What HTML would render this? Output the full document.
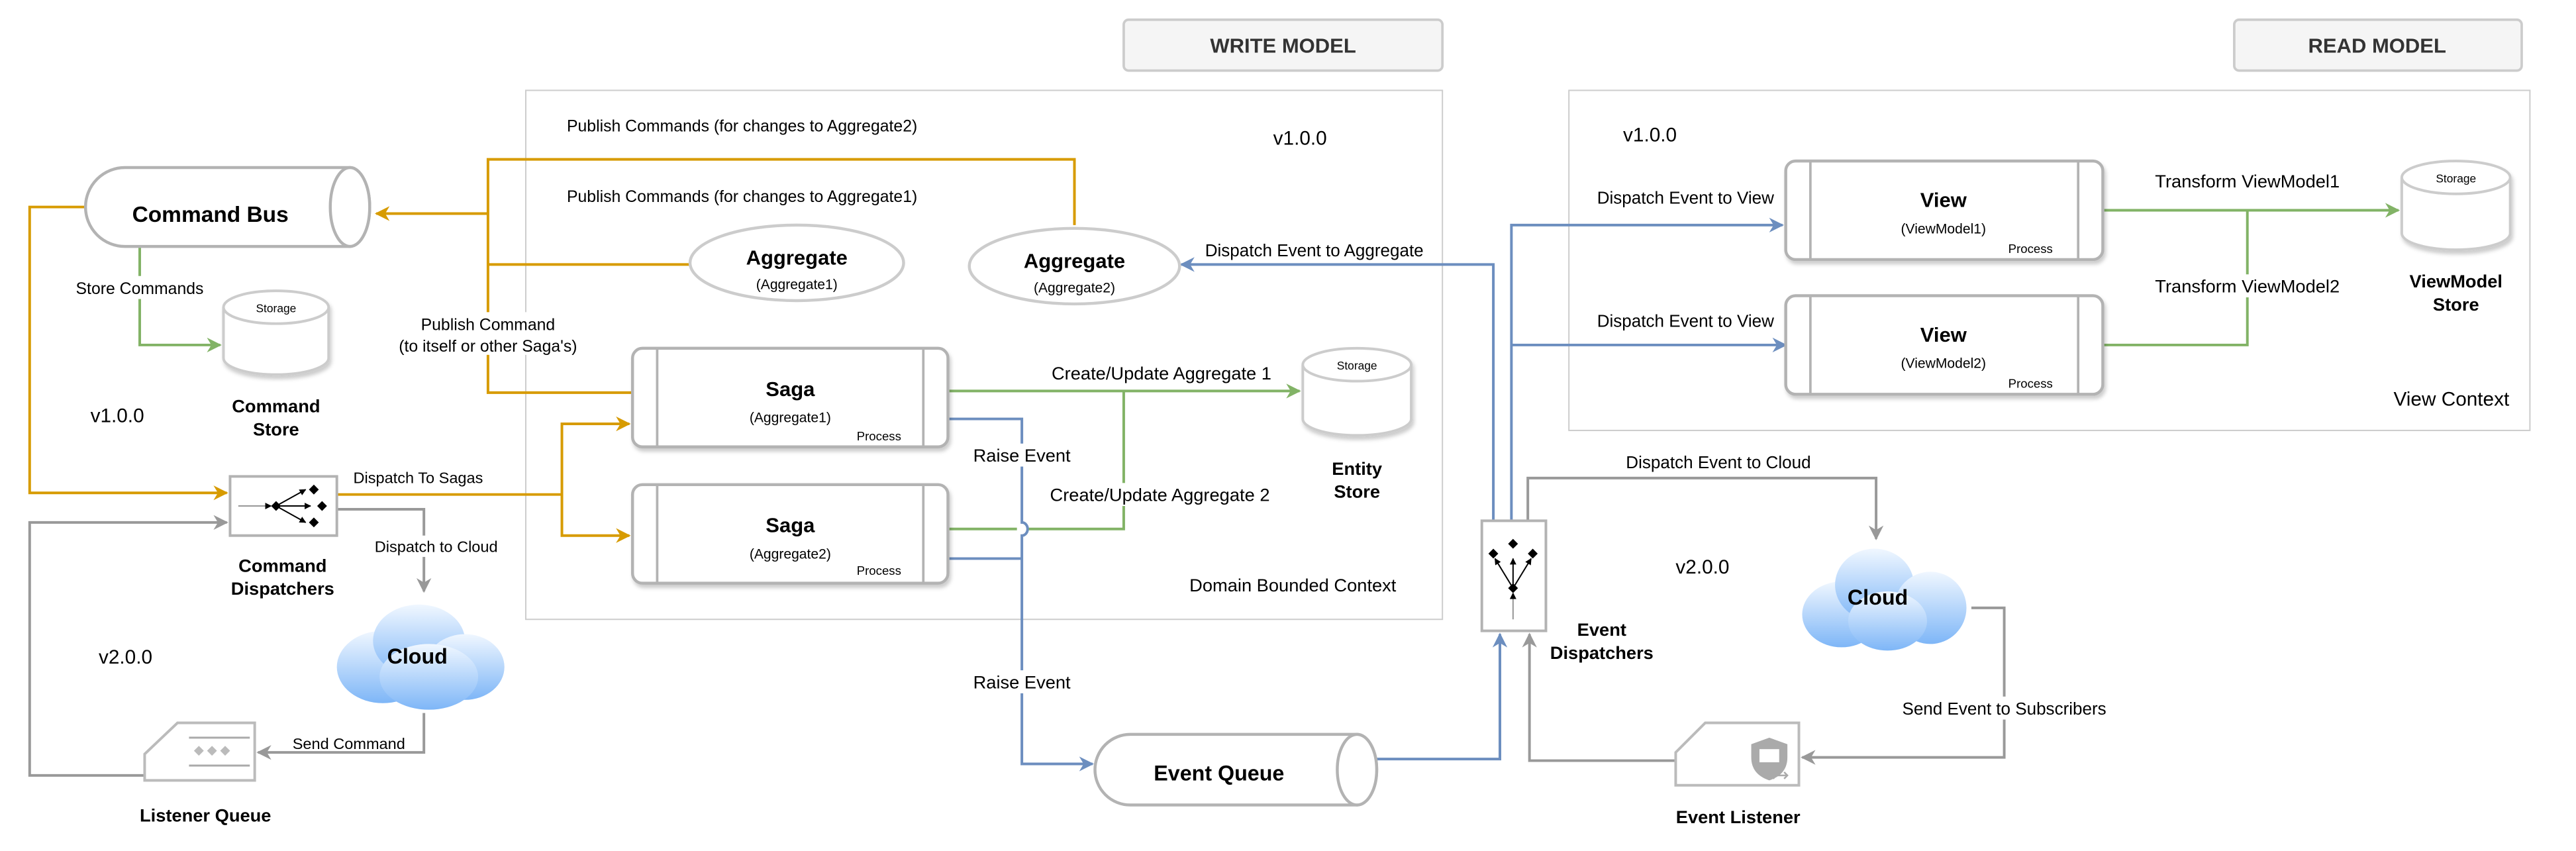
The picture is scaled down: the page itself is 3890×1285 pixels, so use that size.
<!DOCTYPE html>
<html><head><meta charset="utf-8"><style>
html,body{margin:0;padding:0;background:#fff;}
svg{display:block;}
text{font-family:"Liberation Sans",Arial,sans-serif;}
</style></head><body>
<svg width="3890" height="1285" viewBox="0 0 1568 518" xmlns="http://www.w3.org/2000/svg">
<defs>
<marker id="ao" viewBox="0 0 10 10" refX="9" refY="5" markerWidth="9" markerHeight="9" markerUnits="userSpaceOnUse" orient="auto"><path d="M0,0 L10,5 L0,10 L3,5 Z" fill="#d79b00"/></marker>
<marker id="ag" viewBox="0 0 10 10" refX="9" refY="5" markerWidth="9" markerHeight="9" markerUnits="userSpaceOnUse" orient="auto"><path d="M0,0 L10,5 L0,10 L3,5 Z" fill="#82b366"/></marker>
<marker id="ab" viewBox="0 0 10 10" refX="9" refY="5" markerWidth="9" markerHeight="9" markerUnits="userSpaceOnUse" orient="auto"><path d="M0,0 L10,5 L0,10 L3,5 Z" fill="#6c8ebf"/></marker>
<marker id="ay" viewBox="0 0 10 10" refX="9" refY="5" markerWidth="9" markerHeight="9" markerUnits="userSpaceOnUse" orient="auto"><path d="M0,0 L10,5 L0,10 L3,5 Z" fill="#999"/></marker>
<marker id="ak" viewBox="0 0 10 10" refX="9" refY="5" markerWidth="4" markerHeight="4" markerUnits="userSpaceOnUse" orient="auto"><path d="M0,0 L10,5 L0,10 Z" fill="#000"/></marker>
<linearGradient id="cg" x1="0" y1="0" x2="0" y2="1"><stop offset="0" stop-color="#f0f7ff"/><stop offset="1" stop-color="#7eb6f7"/></linearGradient>
<filter id="sh" x="-20%" y="-20%" width="140%" height="150%"><feDropShadow dx="1" dy="2" stdDeviation="1.2" flood-color="#000" flood-opacity="0.2"/></filter>
</defs>

<rect x="684" y="12" width="194" height="31" rx="3" fill="#f5f5f5" stroke="#ccc" stroke-width="1.5"/>
<text x="781" y="32" font-size="12.5" font-weight="bold" fill="#333" text-anchor="middle">WRITE MODEL</text>
<rect x="1360" y="12" width="175" height="31" rx="3" fill="#f5f5f5" stroke="#ccc" stroke-width="1.5"/>
<text x="1447" y="32" font-size="12.5" font-weight="bold" fill="#333" text-anchor="middle">READ MODEL</text>

<rect x="320" y="55" width="558" height="322" fill="none" stroke="#ccc" stroke-width="0.8"/>
<rect x="955" y="55" width="585" height="207" fill="none" stroke="#ccc" stroke-width="0.8"/>

<text x="345" y="80" font-size="10">Publish Commands (for changes to Aggregate2)</text>
<text x="345" y="123" font-size="10">Publish Commands (for changes to Aggregate1)</text>
<text x="775" y="88" font-size="12">v1.0.0</text>
<text x="724" y="360" font-size="11">Domain Bounded Context</text>
<text x="988" y="86" font-size="12">v1.0.0</text>
<text x="1457" y="247" font-size="12">View Context</text>
<text x="55" y="257" font-size="12">v1.0.0</text>
<text x="60" y="404" font-size="12">v2.0.0</text>
<text x="1020" y="349" font-size="12">v2.0.0</text>

<g fill="none" stroke="#d79b00" stroke-width="1.6">
<path d="M654,137 V97 H297 V239 H386"/>
<path d="M420,161 H297"/>
<path d="M297,130 H229" marker-end="url(#ao)"/>
<path d="M52,126 H18 V300 H138" marker-end="url(#ao)"/>
<path d="M205,301 H342 V258 H383" marker-end="url(#ao)"/>
<path d="M342,301 V326 H383" marker-end="url(#ao)"/>
</g>
<rect x="236" y="190" width="122" height="26" fill="#fff"/>
<text x="297" y="201" font-size="10" text-anchor="middle">Publish Command</text>
<text x="297" y="214" font-size="10" text-anchor="middle">(to itself or other Saga's)</text>
<text x="215" y="294" font-size="9.5">Dispatch To Sagas</text>

<g fill="none" stroke="#82b366" stroke-width="1.6">
<path d="M85,150 V210 H134" marker-end="url(#ag)"/>
<path d="M577,238 H791" marker-end="url(#ag)"/>
<path d="M577,322 H619 M625,322 H684 V238"/>
<path d="M1280,128 H1460" marker-end="url(#ag)"/>
<path d="M1280,210 H1368 V128"/>
</g>
<rect x="40" y="168" width="90" height="14" fill="#fff"/>
<text x="85" y="179" font-size="10" text-anchor="middle">Store Commands</text>
<text x="707" y="231" font-size="11" text-anchor="middle">Create/Update Aggregate 1</text>
<rect x="632" y="294" width="148" height="14" fill="#fff"/>
<text x="706" y="305" font-size="11" text-anchor="middle">Create/Update Aggregate 2</text>
<text x="1368" y="114" font-size="11" text-anchor="middle">Transform ViewModel1</text>
<rect x="1302" y="167" width="132" height="14" fill="#fff"/>
<text x="1368" y="178" font-size="11" text-anchor="middle">Transform ViewModel2</text>

<g fill="none" stroke="#6c8ebf" stroke-width="1.6">
<path d="M577,255 H622 V318 A3.5,4 0 0 1 622,326 V465 H665" marker-end="url(#ab)"/>
<path d="M577,340 H622"/>
<path d="M838,462 H913 V386" marker-end="url(#ab)"/>
<path d="M909,317 V161 H719" marker-end="url(#ab)"/>
<path d="M920,317 V137 H1085" marker-end="url(#ab)"/>
<path d="M920,210 H1087" marker-end="url(#ab)"/>
</g>
<rect x="588" y="270" width="68" height="14" fill="#fff"/>
<text x="622" y="281" font-size="11" text-anchor="middle">Raise Event</text>
<rect x="588" y="408" width="68" height="14" fill="#fff"/>
<text x="622" y="419" font-size="11" text-anchor="middle">Raise Event</text>
<text x="800" y="156" font-size="10.5" text-anchor="middle">Dispatch Event to Aggregate</text>
<text x="1026" y="124" font-size="10.5" text-anchor="middle">Dispatch Event to View</text>
<text x="1026" y="199" font-size="10.5" text-anchor="middle">Dispatch Event to View</text>

<g fill="none" stroke="#999" stroke-width="1.6">
<path d="M205,310 H258 V360" marker-end="url(#ay)"/>
<path d="M258,434 V458 H157" marker-end="url(#ay)"/>
<path d="M88,472 H18 V318 H138" marker-end="url(#ay)"/>
<path d="M930,317 V291 H1142 V328" marker-end="url(#ay)"/>
<path d="M1200,370 H1220 V461 H1097" marker-end="url(#ay)"/>
<path d="M1020,463 H931 V386" marker-end="url(#ay)"/>
</g>
<rect x="225" y="326" width="82" height="13" fill="#fff"/>
<text x="228" y="336" font-size="9.5">Dispatch to Cloud</text>
<text x="178" y="456" font-size="9.5">Send Command</text>
<text x="1046" y="285" font-size="10.5" text-anchor="middle">Dispatch Event to Cloud</text>
<rect x="1155" y="424" width="130" height="14" fill="#fff"/>
<text x="1220" y="435" font-size="10.5" text-anchor="middle">Send Event to Subscribers</text>

<g fill="#fff" stroke="#b3b3b3" stroke-width="1.8">
<path d="M76,102 H213 A12,24 0 0 1 213,150 H76 A24,24 0 0 1 76,102 Z"/>
<ellipse cx="213" cy="126" rx="12" ry="24"/>
</g>
<text x="128" y="135" font-size="13.5" font-weight="bold" text-anchor="middle">Command Bus</text>

<g fill="#fff" stroke="#b3b3b3" stroke-width="1.8">
<path d="M688,447 H826 A12,21.5 0 0 1 826,490 H688 A21.5,21.5 0 0 1 688,447 Z"/>
<ellipse cx="826" cy="468.5" rx="12" ry="21.5"/>
</g>
<text x="742" y="475" font-size="13" font-weight="bold" text-anchor="middle">Event Queue</text>

<g fill="#fff" stroke="#ccc" stroke-width="1.6" filter="url(#sh)">
<path d="M136,187 V218 A32,10 0 0 0 200,218 V187"/>
<ellipse cx="168" cy="187" rx="32" ry="10"/>
<path d="M793,222 V255 A33,10 0 0 0 859,255 V222"/>
<ellipse cx="826" cy="222" rx="33" ry="10"/>
<path d="M1462,108 V142 A33,10 0 0 0 1528,142 V108"/>
<ellipse cx="1495" cy="108" rx="33" ry="10"/>
</g>
<text x="168" y="190" font-size="7" text-anchor="middle">Storage</text>
<text x="826" y="225" font-size="7" text-anchor="middle">Storage</text>
<text x="1495" y="111" font-size="7" text-anchor="middle">Storage</text>
<g font-size="11" font-weight="bold" text-anchor="middle">
<text x="168" y="251">Command</text><text x="168" y="265">Store</text>
<text x="826" y="289">Entity</text><text x="826" y="303">Store</text>
<text x="1495" y="175">ViewModel</text><text x="1495" y="189">Store</text>
<text x="172" y="348">Command</text><text x="172" y="362">Dispatchers</text>
<text x="975" y="387">Event</text><text x="975" y="401">Dispatchers</text>
<text x="125" y="500">Listener Queue</text>
<text x="1058" y="501">Event Listener</text>
</g>

<g fill="#fff" stroke="#ccc" stroke-width="1.8">
<ellipse cx="485" cy="160" rx="65" ry="23"/>
<ellipse cx="654" cy="162" rx="64" ry="23"/>
</g>
<text x="485" y="161" font-size="12.5" font-weight="bold" text-anchor="middle">Aggregate</text>
<text x="485" y="176" font-size="8.5" text-anchor="middle">(Aggregate1)</text>
<text x="654" y="163" font-size="12.5" font-weight="bold" text-anchor="middle">Aggregate</text>
<text x="654" y="178" font-size="8.5" text-anchor="middle">(Aggregate2)</text>

<g fill="#fff" stroke="#b3b3b3" stroke-width="1.8" filter="url(#sh)">
<rect x="385" y="212" width="192" height="60" rx="6"/>
<rect x="385" y="295" width="192" height="60" rx="6"/>
<rect x="1087" y="98" width="193" height="60" rx="6"/>
<rect x="1087" y="180" width="193" height="60" rx="6"/>
</g>
<g stroke="#b3b3b3" stroke-width="1.5">
<path d="M400,212 V272 M562,212 V272 M400,295 V355 M562,295 V355 M1102,98 V158 M1265,98 V158 M1102,180 V240 M1265,180 V240"/>
</g>
<g text-anchor="middle">
<text x="481" y="241" font-size="12.5" font-weight="bold">Saga</text>
<text x="481" y="257" font-size="8.5">(Aggregate1)</text>
<text x="481" y="324" font-size="12.5" font-weight="bold">Saga</text>
<text x="481" y="340" font-size="8.5">(Aggregate2)</text>
<text x="1183" y="126" font-size="12.5" font-weight="bold">View</text>
<text x="1183" y="142" font-size="8.5">(ViewModel1)</text>
<text x="1183" y="208" font-size="12.5" font-weight="bold">View</text>
<text x="1183" y="224" font-size="8.5">(ViewModel2)</text>
</g>
<g font-size="7.5" text-anchor="middle">
<text x="535" y="268">Process</text><text x="535" y="350">Process</text>
<text x="1236" y="154">Process</text><text x="1236" y="236">Process</text>
</g>

<rect x="140" y="290" width="65" height="36" fill="#fff" stroke="#b3b3b3" stroke-width="1.6"/>
<path d="M145,308 H165" stroke="#777" stroke-width="0.6" marker-end="url(#ak)"/>
<g stroke="#000" stroke-width="0.8" fill="none">
<path d="M168,308 L186,298" marker-end="url(#ak)"/>
<path d="M168,308 L189,308" marker-end="url(#ak)"/>
<path d="M168,308 L186,318" marker-end="url(#ak)"/>
</g>
<g fill="#000">
<path d="M168,305 l3,3 l-3,3 l-3,-3z"/>
<path d="M191,295 l3,3 l-3,3 l-3,-3z"/>
<path d="M196,305 l3,3 l-3,3 l-3,-3z"/>
<path d="M191,315 l3,3 l-3,3 l-3,-3z"/>
</g>

<rect x="902" y="317" width="39" height="67" fill="#fff" stroke="#b3b3b3" stroke-width="1.6"/>
<path d="M921,377 V361" stroke="#777" stroke-width="0.6" marker-end="url(#ak)"/>
<g stroke="#000" stroke-width="0.8" fill="none">
<path d="M921,358 L910,340" marker-end="url(#ak)"/>
<path d="M921,358 L921,340" marker-end="url(#ak)"/>
<path d="M921,358 L932,340" marker-end="url(#ak)"/>
</g>
<g fill="#000">
<path d="M921,355 l3,3 l-3,3 l-3,-3z"/>
<path d="M909,334 l3,3 l-3,3 l-3,-3z"/>
<path d="M921,328 l3,3 l-3,3 l-3,-3z"/>
<path d="M933,334 l3,3 l-3,3 l-3,-3z"/>
</g>

<g fill="url(#cg)">
<g transform="translate(203,368)">
<ellipse cx="30" cy="38" rx="28" ry="22"/><ellipse cx="52" cy="22" rx="28" ry="22"/>
<ellipse cx="80" cy="38" rx="24" ry="20"/><ellipse cx="58" cy="44" rx="30" ry="20"/>
</g>
<g transform="translate(1095,330)">
<ellipse cx="26" cy="44" rx="24" ry="20"/><ellipse cx="46" cy="26" rx="24" ry="22"/>
<ellipse cx="80" cy="40" rx="22" ry="22"/><ellipse cx="54" cy="48" rx="24" ry="18"/>
</g>
</g>
<text x="254" y="404" font-size="13" font-weight="bold" text-anchor="middle">Cloud</text>
<text x="1143" y="368" font-size="13" font-weight="bold" text-anchor="middle">Cloud</text>

<path d="M108,440 H155 V475 H88 V459 Z" fill="#fff" stroke="#bbb" stroke-width="1.6"/>
<path d="M115,449 H152 M115,466 H152" stroke="#aaa" stroke-width="1.2"/>
<g fill="#bbb"><path d="M121,454 l3,3 l-3,3 l-3,-3z"/><path d="M129,454 l3,3 l-3,3 l-3,-3z"/><path d="M137,454 l3,3 l-3,3 l-3,-3z"/></g>

<path d="M1038,440 H1095 V478 H1020 V458 Z" fill="#fff" stroke="#bbb" stroke-width="1.6"/>
<path d="M1077,449 l-11,4 v8 c0,8 5,12 11,14 c6,-2 11,-6 11,-14 v-8 z" fill="#aaa"/>
<rect x="1071" y="456" width="12" height="8" fill="#fff"/>
<path d="M1078,472 h10 m-8,-2 l-2,2 l2,2 m6,-4 l2,2 l-2,2" stroke="#aaa" stroke-width="1" fill="none"/>
</svg>
</body></html>
